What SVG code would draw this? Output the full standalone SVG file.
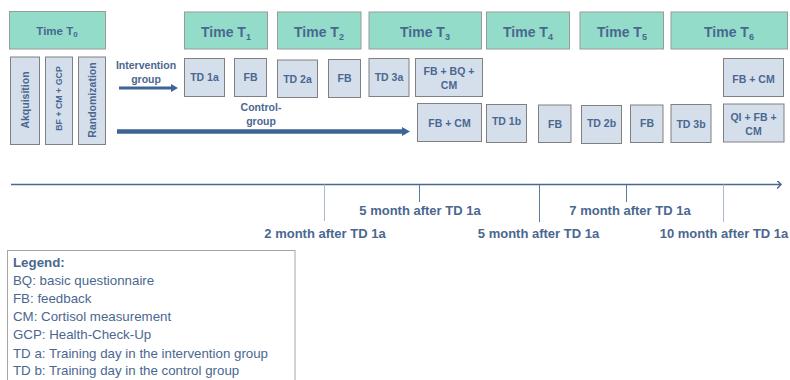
<svg xmlns="http://www.w3.org/2000/svg" width="790" height="380" viewBox="0 0 790 380">
<defs>
<style>
text{font-family:"Liberation Sans",Arial,sans-serif;fill:#4a6790}
.hd{fill:#93dcc9;stroke:#9a9a9a;stroke-width:1}
.bx{fill:#d5dfec;stroke:#808080;stroke-width:1}
.ht{font-size:14px;font-weight:bold;text-anchor:middle}
.sub{font-size:9px}
.bt{font-size:10.5px;font-weight:bold;text-anchor:middle}
.vt{font-size:10.5px;font-weight:bold;text-anchor:middle}
.gl{font-size:10.5px;font-weight:bold;text-anchor:middle}
.ml{font-size:13px;font-weight:bold;text-anchor:middle}
.lg{font-size:13.3px}
.tick{stroke:#5a7aa0;stroke-width:1}
.tickl{stroke:#a9b8cc;stroke-width:1}
</style>
<marker id="ah" markerWidth="8" markerHeight="8" refX="4" refY="4" orient="auto" markerUnits="userSpaceOnUse">
<path d="M0,0 L4,4 L0,8" fill="none" stroke="#4a6790" stroke-width="1.5"/>
</marker>
</defs>
<rect width="790" height="380" fill="#ffffff"/>

<g id="connectors">
<line x1="119" y1="88" x2="172" y2="88" stroke="#3c6494" stroke-width="3"/>
<polygon points="171,84 178,88 171,92" fill="#3c6494"/>
<line x1="117" y1="131.5" x2="403" y2="131.5" stroke="#3c6494" stroke-width="4.5"/>
<polygon points="402,127 410,131.5 402,136" fill="#3c6494"/>
<line x1="11" y1="184.5" x2="781" y2="184.5" stroke="#4a6790" stroke-width="1.5" marker-end="url(#ah)"/>
<line class="tickl" x1="324.5" y1="184.5" x2="324.5" y2="221"/>
<line class="tick" x1="419.5" y1="184.5" x2="419.5" y2="202"/>
<line class="tick" x1="539.5" y1="184.5" x2="539.5" y2="222"/>
<line class="tick" x1="626.5" y1="184.5" x2="626.5" y2="202"/>
<line class="tickl" x1="723.5" y1="184.5" x2="723.5" y2="222"/>
</g>

<g id="T0"><rect class="hd" x="9.5" y="11.5" width="96" height="37.5"/><text class="ht" x="57" y="34.5" style="font-size:11.5px">Time T<tspan class="sub" style="font-size:8px" dy="2">0</tspan></text></g>
<g id="T1"><rect class="hd" x="184.5" y="12" width="83" height="37"/><text class="ht" x="226" y="37">Time T<tspan class="sub" dy="3">1</tspan></text></g>
<g id="T2"><rect class="hd" x="277.5" y="12" width="83.5" height="37"/><text class="ht" x="319" y="37">Time T<tspan class="sub" dy="3">2</tspan></text></g>
<g id="T3"><rect class="hd" x="369" y="12" width="112.5" height="37"/><text class="ht" x="425" y="37">Time T<tspan class="sub" dy="3">3</tspan></text></g>
<g id="T4"><rect class="hd" x="486.5" y="12" width="83" height="37"/><text class="ht" x="528" y="37">Time T<tspan class="sub" dy="3">4</tspan></text></g>
<g id="T5"><rect class="hd" x="580" y="12" width="83.5" height="37"/><text class="ht" x="622" y="37">Time T<tspan class="sub" dy="3">5</tspan></text></g>
<g id="T6"><rect class="hd" x="671" y="12" width="116.5" height="37"/><text class="ht" x="729" y="37">Time T<tspan class="sub" dy="3">6</tspan></text></g>

<g id="akquisition"><rect class="bx" x="10.5" y="57" width="29" height="87.5"/><text class="vt" transform="translate(28.5,100) rotate(-90)">Akquisition</text></g>
<g id="bfcmgcp"><rect class="bx" x="45.5" y="57" width="27" height="87.5"/><text class="vt" style="font-size:8.8px" transform="translate(62,98.5) rotate(-90)">BF + CM + GCP</text></g>
<g id="randomization"><rect class="bx" x="78.5" y="57" width="27" height="87.5"/><text class="vt" transform="translate(95.5,100) rotate(-90)">Randomization</text></g>

<g id="intervention-label"><text class="gl" x="146" y="69">Intervention</text><text class="gl" x="146" y="83">group</text></g>
<g id="control-label"><text class="gl" x="261" y="111">Control-</text><text class="gl" x="261" y="125">group</text></g>

<g id="td1a"><rect class="bx" x="184.5" y="58.5" width="40" height="38"/><text class="bt" x="204.5" y="81">TD 1a</text></g>
<g id="fb1"><rect class="bx" x="234.5" y="58.5" width="32" height="38"/><text class="bt" x="250.5" y="81">FB</text></g>
<g id="td2a"><rect class="bx" x="277.5" y="60" width="40" height="37.5"/><text class="bt" x="297.5" y="82.5">TD 2a</text></g>
<g id="fb2"><rect class="bx" x="328.5" y="59.5" width="32" height="38"/><text class="bt" x="344.5" y="82">FB</text></g>
<g id="td3a"><rect class="bx" x="369" y="58.5" width="40" height="38"/><text class="bt" x="389" y="81">TD 3a</text></g>
<g id="fbbqcm"><rect class="bx" x="415.5" y="58.5" width="67" height="38"/><text class="bt" x="449" y="75">FB + BQ +</text><text class="bt" x="449" y="88.5">CM</text></g>
<g id="fbcm6a"><rect class="bx" x="723.5" y="58.5" width="60" height="38"/><text class="bt" x="753.5" y="83">FB + CM</text></g>

<g id="fbcm3b"><rect class="bx" x="417.5" y="103.5" width="64" height="38"/><text class="bt" x="449.5" y="127">FB + CM</text></g>
<g id="td1b"><rect class="bx" x="486.5" y="104.5" width="40" height="38"/><text class="bt" x="506.5" y="125">TD 1b</text></g>
<g id="fb4"><rect class="bx" x="538.5" y="105" width="32.5" height="37.5"/><text class="bt" x="555" y="128">FB</text></g>
<g id="td2b"><rect class="bx" x="581.5" y="105.5" width="40" height="38"/><text class="bt" x="601.5" y="127">TD 2b</text></g>
<g id="fb5"><rect class="bx" x="630.5" y="105" width="32.5" height="37.5"/><text class="bt" x="647" y="127">FB</text></g>
<g id="td3b"><rect class="bx" x="671" y="104.5" width="40" height="38"/><text class="bt" x="691" y="128">TD 3b</text></g>
<g id="qifbcm"><rect class="bx" x="723.5" y="104" width="60.5" height="38"/><text class="bt" x="753.5" y="121">QI + FB +</text><text class="bt" x="753.5" y="134.5">CM</text></g>

<g id="timeline-labels">
<text class="ml" x="325" y="238">2 month after TD 1a</text>
<text class="ml" x="420" y="214.5">5 month after TD 1a</text>
<text class="ml" x="538.5" y="238">5 month after TD 1a</text>
<text class="ml" x="630" y="214.5">7 month after TD 1a</text>
<text class="ml" x="724" y="238">10 month after TD 1a</text>
</g>

<g id="legend">
<rect x="7.5" y="250.5" width="287.5" height="140" fill="#ffffff" stroke="#a6a6a6" stroke-width="1"/>
<text class="lg" x="13" y="266.5" font-weight="bold">Legend:</text>
<text class="lg" x="13" y="284.5">BQ: basic questionnaire</text>
<text class="lg" x="13" y="302.5">FB: feedback</text>
<text class="lg" x="13" y="320.5">CM: Cortisol measurement</text>
<text class="lg" x="13" y="339">GCP: Health-Check-Up</text>
<text class="lg" x="13" y="357.5">TD a: Training day in the intervention group</text>
<text class="lg" x="13" y="375">TD b: Training day in the control group</text>
</g>
</svg>
